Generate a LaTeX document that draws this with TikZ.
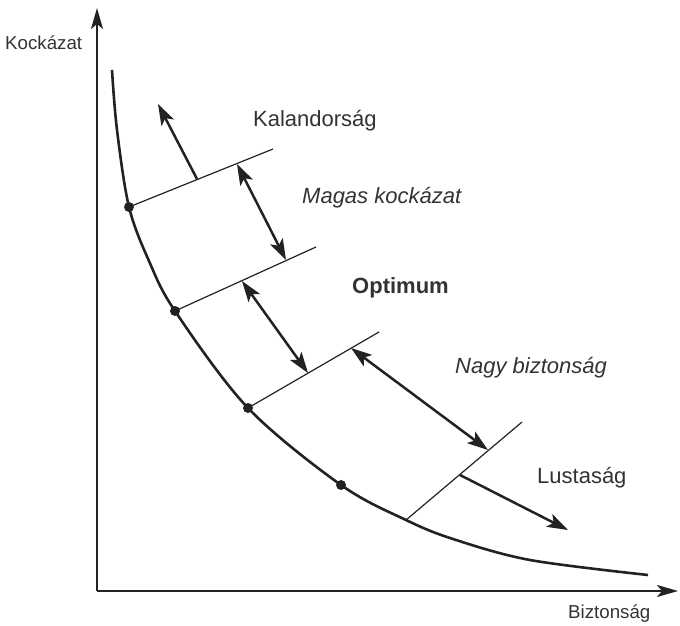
\documentclass[tikz,border=0pt]{standalone}
\usepackage{fontspec}
\setmainfont{Liberation Sans}
\usetikzlibrary{arrows.meta}
\definecolor{vonal}{HTML}{222222}
\definecolor{betu}{HTML}{333333}

\begin{document}
\begin{tikzpicture}[x=1pt, y=1pt,
  tengely/.style={-{Stealth[length=21pt,width=12pt,inset=5pt]}, line width=1.9pt, vonal},
  gorbe/.style={line width=2.6pt, vonal},
  vekony/.style={line width=1.2pt, vonal},
  nyil/.style={-{Stealth[length=21pt,width=14pt,inset=5pt]}, line width=2.5pt, vonal},
  kettos/.style={{Stealth[length=21pt,width=14pt,inset=5pt]}-{Stealth[length=21pt,width=14pt,inset=5pt]}, line width=2.5pt, vonal},
  cimke/.style={anchor=base west, inner sep=0pt, text=betu, font=\fontsize{22}{26}\selectfont},
  tcimke/.style={anchor=base west, inner sep=0pt, text=betu, font=\fontsize{18.7}{22}\selectfont}]
\useasboundingbox (-97,-34) rectangle (583,591);

% tengelyek
\coordinate (O) at (0,0);
\coordinate (ytip) at (0,583);
\coordinate (xtip) at (581,0);
\draw[tengely] (O) -- (ytip);
\draw[tengely] (O) -- (xtip);
\node[tcimke] (kock) at (-92,541) {Kockázat};
\node[tcimke] (bizt) at (471,-27) {Biztonság};

% pontok a gorben
\coordinate (p1) at (32,384);
\coordinate (p2) at (78,280);
\coordinate (p3) at (151,183);
\coordinate (p4) at (244,106);
\coordinate (p5) at (309,71);
\draw[gorbe] plot[smooth, tension=0.55] coordinates {(15,521) (20,461) (p1) (52,330) (p2) (p3) (p4) (p5) (356,52) (433,31) (551,16)};
\foreach \p in {p1,p2,p3,p4} \fill[vonal] (\p) circle (5pt);

% hatarvonalak
\coordinate (v1) at (176,442);
\coordinate (v2) at (219,344);
\coordinate (v3) at (282,259);
\coordinate (v4) at (425,169);
\draw[vekony] (p1) -- (v1);
\draw[vekony] (p2) -- (v2);
\draw[vekony] (p3) -- (v3);
\draw[vekony] (p5) -- (v4);

% nyilak
\coordinate (k1) at (100,412);
\coordinate (k2) at (61,487);
\coordinate (m1) at (140,427);
\coordinate (m2) at (189,331);
\coordinate (o1) at (145,310);
\coordinate (o2) at (211,218);
\coordinate (n1) at (254,243);
\coordinate (n2) at (391,141);
\coordinate (l1) at (363,116);
\coordinate (l2) at (471,61);
\draw[nyil] (k1) -- (k2);
\draw[kettos] (m1) -- (m2);
\draw[kettos] (o1) -- (o2);
\draw[kettos] (n1) -- (n2);
\draw[nyil] (l1) -- (l2);

% feliratok
\node[cimke] (kal) at (156,464) {Kalandorság};
\node[cimke] (mag) at (205,388) {\textit{Magas kockázat}};
\node[cimke] (opt) at (255,298) {\textbf{Optimum}};
\node[cimke] (nagy) at (358,218) {\textit{Nagy biztonság}};
\node[cimke] (lus) at (440,108) {Lustaság};
\end{tikzpicture}
\end{document}
